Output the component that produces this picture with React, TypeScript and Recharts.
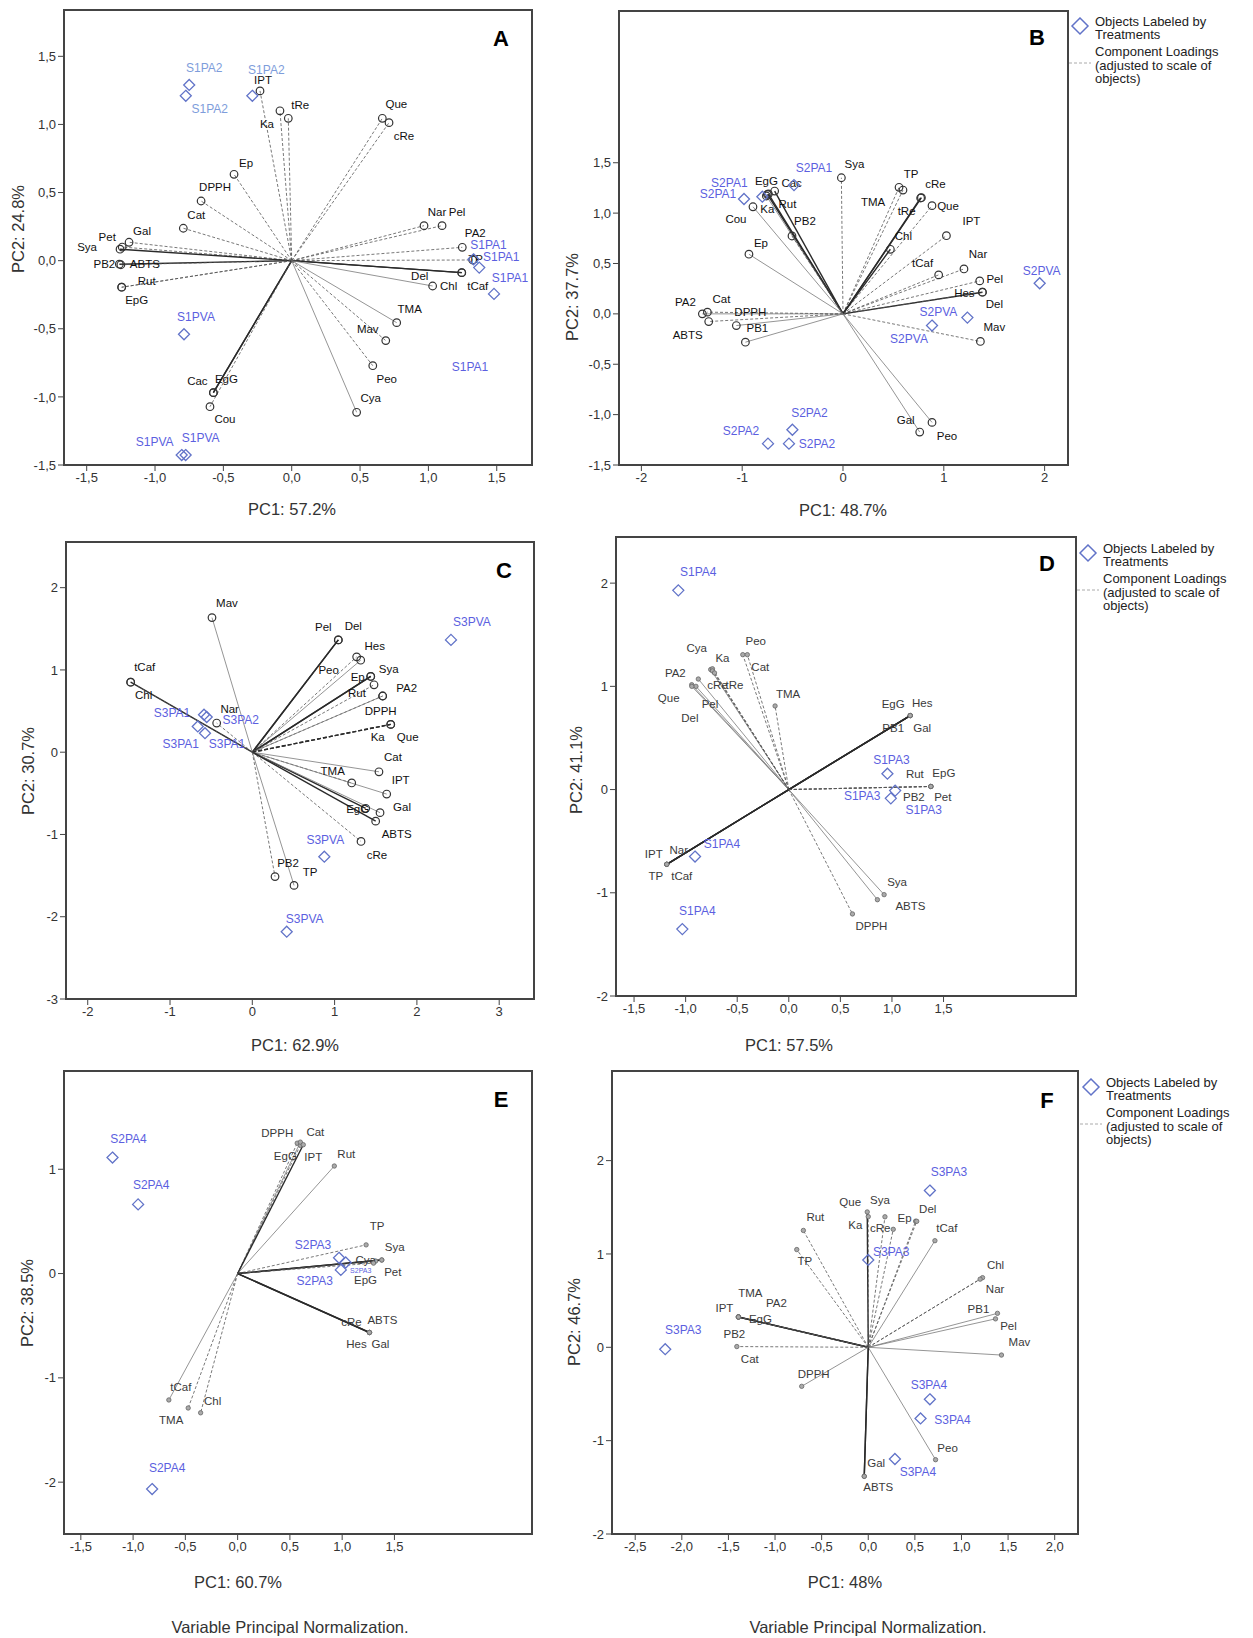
import React from "react";
import {
  ScatterChart,
  Scatter,
  XAxis,
  YAxis,
  ReferenceLine,
  ReferenceArea,
  ReferenceDot,
} from "recharts";

const FONT = "Arial, 'Liberation Sans', Helvetica, sans-serif";
const DIAMOND = "#6173c8";
const OBJ_TEXT = "#5c5fe0";
const OBJ_LIGHT = "#7e9ddb";

// ---------- Panel A ----------
const aObj = ["S1PA2", "S1PA2", "S1PA2", "S1PA1", "S1PA1", "S1PA1", "S1PVA", "S1PVA", "S1PVA"];
const aObjPc1 = [-0.75, -0.775, -0.288, 1.33, 1.372, 1.48, -0.788, -0.805, -0.776];
const aObjPc2 = [1.29, 1.21, 1.21, 0.01, -0.051, -0.244, -0.54, -1.427, -1.427];
const aStray = ["S1PA1"];
const aStrayPc1 = [1.304];
const aStrayPc2 = [-0.778];
const aVar = ["IPT", "Ka", "tRe", "Que", "cRe", "Ep", "DPPH", "Cat", "Gal", "Pet", "Sya", "PB2", "ABTS", "Rut", "EpG", "Cac", "EgG", "Cou", "Nar", "Pel", "PA2", "TP", "Del", "tCaf", "Chl", "TMA", "Mav", "Peo", "Cya"];
const aVarPc1 = [-0.232, -0.086, -0.025, 0.663, 0.712, -0.422, -0.663, -0.793, -1.19, -1.24, -1.256, -1.261, -1.25, -1.244, -1.244, -0.573, -0.573, -0.598, 0.968, 1.1, 1.248, 1.324, 1.244, 1.244, 1.031, 0.768, 0.688, 0.593, 0.475];
const aVarPc2 = [1.246, 1.1, 1.045, 1.045, 1.013, 0.634, 0.438, 0.238, 0.135, 0.1, 0.084, -0.026, -0.03, -0.195, -0.195, -0.969, -0.969, -1.072, 0.257, 0.257, 0.098, 0.005, -0.088, -0.088, -0.186, -0.455, -0.587, -0.771, -1.113];

// ---------- Panel B ----------
const bObj = ["S2PA1", "S2PA1", "S2PA1", "S2PVA", "S2PVA", "S2PVA", "S2PA2", "S2PA2", "S2PA2"];
const bObjPc1 = [-0.982, -0.8, -0.486, 1.951, 1.234, 0.883, -0.502, -0.744, -0.536];
const bObjPc2 = [1.14, 1.163, 1.278, 0.304, -0.037, -0.116, -1.15, -1.288, -1.288];
const bVar = ["Sya", "TMA", "TP", "cRe", "tRe", "Que", "Chl", "IPT", "Nar", "tCaf", "Pel", "Hes", "Del", "Mav", "Gal", "Peo", "EgG", "Cac", "Ka", "Rut", "Cou", "PB2", "Ep", "PA2", "Cat", "ABTS", "DPPH", "PB1"];
const bVarPc1 = [-0.016, 0.556, 0.595, 0.778, 0.77, 0.883, 0.47, 1.026, 1.2, 0.949, 1.356, 1.383, 1.383, 1.363, 0.761, 0.883, -0.75, -0.678, -0.76, -0.74, -0.893, -0.506, -0.933, -1.395, -1.345, -1.332, -1.058, -0.968];
const bVarPc2 = [1.351, 1.256, 1.229, 1.153, 1.15, 1.074, 0.641, 0.776, 0.446, 0.387, 0.327, 0.215, 0.215, -0.274, -1.173, -1.077, 1.186, 1.219, 1.17, 1.19, 1.063, 0.773, 0.592, 0.0, 0.017, -0.076, -0.116, -0.281];

// ---------- Panel C ----------
const cObj = ["S3PA1", "S3PA2", "S3PA1", "S3PA1", "S3PVA", "S3PVA", "S3PVA"];
const cObjPc1 = [-0.587, -0.554, -0.663, -0.575, 2.414, 0.875, 0.418];
const cObjPc2 = [0.456, 0.428, 0.313, 0.231, 1.365, -1.27, -2.182];
const cVar = ["Mav", "tCaf", "Chl", "Nar", "PB2", "TP", "Pel", "Del", "Peo", "Hes", "Ep", "Sya", "Rut", "PA2", "DPPH", "Ka", "Que", "Cat", "TMA", "IPT", "EgG", "Gal", "ABTS", "cRe"];
const cVarPc1 = [-0.49, -1.478, -1.478, -0.433, 0.276, 0.507, 1.045, 1.045, 1.268, 1.317, 1.439, 1.439, 1.479, 1.584, 1.584, 1.682, 1.682, 1.539, 1.208, 1.633, 1.378, 1.552, 1.499, 1.321];
const cVarPc2 = [1.636, 0.851, 0.851, 0.354, -1.512, -1.619, 1.365, 1.365, 1.159, 1.118, 0.921, 0.921, 0.819, 0.683, 0.683, 0.338, 0.338, -0.238, -0.374, -0.509, -0.682, -0.735, -0.838, -1.085];

// ---------- Panel D ----------
const dObj = ["S1PA4", "S1PA4", "S1PA4", "S1PA3", "S1PA3", "S1PA3"];
const dObjPc1 = [-1.071, -0.909, -1.032, 0.956, 1.031, 0.989];
const dObjPc2 = [1.93, -0.649, -1.352, 0.154, -0.01, -0.085];
const dVar = ["Cya", "Ka", "PA2", "Que", "cRe", "tRe", "Pel", "Del", "Peo", "Cat", "TMA", "IPT", "Nar", "TP", "tCaf", "DPPH", "Sya", "ABTS", "EgG", "Hes", "PB1", "Gal", "Rut", "EpG", "PB2", "Pet"];
const dVarPc1 = [-0.757, -0.74, -0.877, -0.941, -0.74, -0.72, -0.9, -0.94, -0.446, -0.402, -0.133, -1.183, -1.183, -1.183, -1.183, 0.617, 0.924, 0.859, 1.177, 1.177, 1.177, 1.177, 1.377, 1.377, 1.377, 1.377];
const dVarPc2 = [1.163, 1.17, 1.071, 1.016, 1.15, 1.13, 1.0, 1.0, 1.307, 1.307, 0.81, -0.724, -0.724, -0.724, -0.724, -1.205, -1.018, -1.067, 0.717, 0.717, 0.717, 0.717, 0.03, 0.03, 0.03, 0.03];

// ---------- Panel E ----------
const eObj = ["S2PA4", "S2PA4", "S2PA4", "S2PA3", "S2PA3", "S2PA3"];
const eObjPc1 = [-1.197, -0.952, -0.818, 0.97, 1.034, 0.987];
const eObjPc2 = [1.112, 0.663, -2.066, 0.151, 0.106, 0.035];
const eVar = ["DPPH", "EgG", "Cat", "IPT", "Rut", "TP", "Sya", "Pet", "Cya", "EpG", "cRe", "ABTS", "Hes", "Gal", "tCaf", "TMA", "Chl"];
const eVarPc1 = [0.57, 0.6, 0.6, 0.628, 0.925, 1.229, 1.379, 1.379, 1.32, 1.3, 1.261, 1.261, 1.261, 1.261, -0.658, -0.473, -0.354];
const eVarPc2 = [1.25, 1.23, 1.26, 1.235, 1.031, 0.275, 0.13, 0.13, 0.12, 0.1, -0.565, -0.565, -0.565, -0.565, -1.212, -1.289, -1.335];

// ---------- Panel F ----------
const fObj = ["S3PA3", "S3PA3", "S3PA3", "S3PA4", "S3PA4", "S3PA4"];
const fObjPc1 = [-2.178, 0.0, 0.661, 0.661, 0.561, 0.286];
const fObjPc2 = [-0.02, 0.936, 1.679, -0.557, -0.762, -1.197];
const fVar = ["Rut", "TP", "Que", "Ka", "Sya", "cRe", "Ep", "Del", "tCaf", "Chl", "Nar", "PB1", "Pel", "Mav", "Peo", "Gal", "ABTS", "TMA", "PA2", "IPT", "EgG", "PB2", "Cat", "DPPH"];
const fVarPc1 = [-0.696, -0.767, -0.011, 0.0, 0.179, 0.268, 0.508, 0.52, 0.715, 1.226, 1.2, 1.386, 1.365, 1.429, 0.722, -0.043, -0.043, -1.393, -1.393, -1.393, -1.393, -1.393, -1.41, -0.714];
const fVarPc2 = [1.252, 1.047, 1.45, 1.4, 1.398, 1.264, 1.351, 1.35, 1.142, 0.746, 0.73, 0.364, 0.305, -0.083, -1.204, -1.382, -1.382, 0.325, 0.325, 0.325, 0.325, 0.325, 0.008, -0.418];

// axis ticks
const ticksHalf15 = [-1.5, -1.0, -0.5, 0.0, 0.5, 1.0, 1.5];
const ticksB_x = [-2, -1, 0, 1, 2];
const ticksC_x = [-2, -1, 0, 1, 2, 3];
const ticksC_y = [-3, -2, -1, 0, 1, 2];
const ticksD_y = [-2, -1, 0, 1, 2];
const ticksE_y = [-2, -1, 0, 1];
const ticksF_x = [-2.5, -2.0, -1.5, -1.0, -0.5, 0.0, 0.5, 1.0, 1.5, 2.0];

// label offsets (px) for each point, same order as the arrays above
const aObjLab = [[15, -17], [24, 13], [14, -26], [15, -14], [22, -11], [16, -16], [12, -17], [-27, -13], [15, -17]];
const aVarLab = [[3, -11], [-13, 13], [12, -13], [14, -14], [15, 13], [12, -11], [14, -14], [13, -13], [13, -11], [-15, -10], [-33, -2], [-15, 0], [24, -1], [25, -6], [15, 13], [-16, -12], [13, -14], [15, 12], [13, -14], [15, -14], [13, -14], [3, -1], [-42, 3], [16, 13], [16, 0], [13, -14], [-18, -12], [14, 13], [14, -14]];
const bObjLab = [[-26, -5], [-33, -14], [20, -17], [2, -12], [-29, -6], [-23, 13], [17, -17], [-27, -13], [28, 0]];
const bVarLab = [[13, -14], [-26, 15], [8, -16], [14, -14], [-14, 13], [16, 0], [13, -13], [25, -15], [14, -15], [-16, -12], [15, -2], [-18, 1], [12, 12], [14, -14], [-14, -12], [15, 14], [-1, -13], [17, -8], [1, 13], [19, 10], [-17, 12], [13, -15], [12, -11], [-17, -12], [14, -13], [-21, 13], [14, -14], [12, -14]];
const cObjLab = [[-32, -2], [34, 3], [-17, 18], [22, 11], [21, -18], [1, -17], [18, -13]];
const cVarLab = [[15, -15], [14, -15], [13, 13], [13, -14], [13, -14], [16, -13], [-15, -13], [15, -14], [-28, 13], [14, -14], [-13, 1], [18, -7], [-17, 8], [24, -8], [-2, 15], [-13, 13], [17, 13], [14, -15], [-19, -12], [14, -14], [-8, 1], [22, -6], [21, 13], [16, 14]];
const dObjLab = [[20, -18], [27, -13], [15, -18], [4, -14], [-33, 5], [33, 12]];
const dVarLab = [[-14, -22], [10, -11], [-23, -6], [-23, 13], [5, 14], [20, 12], [14, 18], [-2, 32], [13, -14], [13, 12], [13, -12], [-13, -10], [12, -14], [-11, 12], [15, 12], [19, 12], [13, -13], [33, 6], [-17, -12], [12, -13], [-17, 12], [12, 12], [-16, -12], [13, -13], [-17, 11], [12, 11]];
const eObjLab = [[16, -19], [13, -19], [15, -21], [-26, -13], [15, 8], [-26, 11]];
const eVarLab = [[-20, -10], [-15, 11], [15, -10], [10, 12], [12, -12], [11, -19], [13, -13], [11, 12], [-10, -1], [-8, 17], [-18, -10], [13, -12], [-13, 12], [11, 12], [12, -13], [-17, 12], [12, -12]];
const fObjLab = [[18, -19], [23, -8], [19, -19], [-1, -14], [32, 2], [23, 13]];
const fVarLab = [[12, -13], [8, 11], [-17, -10], [-13, 8], [-5, -17], [-13, -1], [-11, -3], [11, -12], [12, -13], [13, -13], [15, 10], [-19, -4], [13, 7], [18, -13], [12, -12], [12, -13], [14, 11], [12, -24], [38, -14], [-14, -9], [22, 2], [-4, 17], [13, 12], [12, -12]];

// line kinds: b = bold solid, bd = bold dashed, s = thin solid, d = dashed
const aVarLine = ["d", "d", "d", "d", "d", "d", "d", "d", "d", "d", "b", "b", "d", "d", "d", "b", "b", "d", "d", "d", "d", "d", "b", "b", "s", "s", "d", "d", "s"];
const bVarLine = ["d", "d", "d", "b", "b", "d", "b", "d", "d", "d", "d", "b", "d", "d", "s", "s", "b", "b", "s", "b", "s", "d", "s", "s", "d", "d", "s", "s"];
const cVarLine = ["s", "b", "d", "d", "d", "s", "b", "b", "d", "s", "b", "b", "d", "d", "s", "bd", "bd", "s", "d", "s", "b", "s", "b", "d"];
const dVarLine = ["s", "d", "s", "s", "d", "d", "s", "s", "d", "d", "d", "b", "b", "b", "b", "d", "s", "s", "b", "b", "b", "b", "d", "d", "d", "d"];
const eVarLine = ["d", "d", "s", "b", "s", "d", "b", "b", "d", "d", "d", "b", "d", "b", "s", "d", "d"];
const fVarLine = ["d", "d", "b", "d", "d", "d", "d", "d", "s", "d", "d", "s", "s", "s", "s", "b", "b", "b", "d", "b", "d", "d", "d", "s"];

type Row = { name: string; x: number; y: number; dx: number; dy: number; kind: string; tint: string; size: number };

function rows(names: string[], xs: number[], ys: number[], labs: number[][], kinds: string[] | null, tint: (n: string, i: number) => string, size: (i: number) => number): Row[] {
  return names.map((name, i) => ({
    name,
    x: xs[i],
    y: ys[i],
    dx: labs[i][0],
    dy: labs[i][1],
    kind: kinds ? kinds[i] : "",
    tint: tint(name, i),
    size: size(i),
  }));
}

function lineStyle(k: string) {
  if (k === "b") return { stroke: "#2a2a2a", strokeWidth: 1.4 };
  if (k === "bd") return { stroke: "#2a2a2a", strokeWidth: 1.4, strokeDasharray: "4 2" };
  if (k === "s") return { stroke: "#7a7a7a", strokeWidth: 0.8 };
  return { stroke: "#555", strokeWidth: 0.8, strokeDasharray: "3 2" };
}

const fmt = (dec: number) => (v: number) => (dec ? v.toFixed(dec).replace(".", ",") : String(v));

type Panel = {
  x0: number; y0: number; x1: number; y1: number;
  xDom: number[]; yDom: number[]; xTicks: number[]; yTicks: number[];
  xDec: number; yDec: number; dot: boolean;
  objs: Row[]; vars: Row[];
  stray?: { name: string; x: number; y: number }[];
};

function Biplot({ p }: { p: Panel }) {
  const YW = 48, XH = 30, MT = 2, MR = 2;
  const w = p.x1 - p.x0 + YW + MR;
  const h = p.y1 - p.y0 + MT + XH;
  const tick = { fontSize: 13, fill: "#333", fontFamily: FONT };

  const varShape = (props: any) => {
    const { cx, cy, payload } = props;
    return (
      <g>
        {p.dot ? (
          <circle cx={cx} cy={cy} r={2.2} fill="#aaa" stroke="#666" strokeWidth={0.8} />
        ) : (
          <circle cx={cx} cy={cy} r={3.8} fill="none" stroke="#333" strokeWidth={1.2} />
        )}
        <text x={cx + payload.dx} y={cy + payload.dy} textAnchor="middle" dominantBaseline="central" fontSize={11.5} fontFamily={FONT} fill={p.dot ? "#3a3a3a" : "#111"}>
          {payload.name}
        </text>
      </g>
    );
  };

  const objShape = (props: any) => {
    const { cx, cy, payload } = props;
    const s = 5.5;
    return (
      <g>
        <path d={`M${cx},${cy - s}L${cx + s},${cy}L${cx},${cy + s}L${cx - s},${cy}Z`} fill="none" stroke={DIAMOND} strokeWidth={1.3} />
        <text x={cx + payload.dx} y={cy + payload.dy} textAnchor="middle" dominantBaseline="central" fontSize={payload.size} fontFamily={FONT} fill={payload.tint}>
          {payload.name}
        </text>
      </g>
    );
  };

  return (
    <div style={{ position: "absolute", left: p.x0 - YW, top: p.y0 - MT }}>
      <ScatterChart width={w} height={h} margin={{ top: MT, right: MR, bottom: 0, left: 0 }}>
        <XAxis
          type="number"
          dataKey="x"
          domain={p.xDom}
          ticks={p.xTicks}
          interval={0}
          allowDataOverflow
          height={XH}
          tickFormatter={fmt(p.xDec)}
          tick={tick}
          tickSize={6}
          tickLine={{ stroke: "#444" }}
          axisLine={{ stroke: "#444", strokeWidth: 2 }}
        />
        <YAxis
          type="number"
          dataKey="y"
          domain={p.yDom}
          ticks={p.yTicks}
          interval={0}
          allowDataOverflow
          width={YW}
          tickFormatter={fmt(p.yDec)}
          tick={tick}
          tickSize={6}
          tickLine={{ stroke: "#444" }}
          axisLine={{ stroke: "#444", strokeWidth: 2 }}
        />
        <ReferenceArea x1={p.xDom[0]} x2={p.xDom[1]} y1={p.yDom[0]} y2={p.yDom[1]} fill="none" stroke="#444" strokeWidth={2} />
        {p.vars.map((v, i) => (
          <ReferenceLine key={"l" + i} segment={[{ x: 0, y: 0 }, { x: v.x, y: v.y }]} {...lineStyle(v.kind)} />
        ))}
        <Scatter data={p.vars} shape={varShape} isAnimationActive={false} />
        <Scatter data={p.objs} shape={objShape} isAnimationActive={false} />
        {(p.stray || []).map((s, i) => (
          <ReferenceDot
            key={"s" + i}
            x={s.x}
            y={s.y}
            r={0}
            fill="none"
            stroke="none"
            label={{ value: s.name, position: "center", fill: OBJ_TEXT, fontSize: 12, fontFamily: FONT }}
          />
        ))}
      </ScatterChart>
    </div>
  );
}

function Txt({ x, y, text, size = 16.5, rot = false, bold = false, color = "#333" }: any) {
  return (
    <div
      style={{
        position: "absolute",
        left: x,
        top: y,
        transform: `translate(-50%,-50%)${rot ? " rotate(-90deg)" : ""}`,
        fontFamily: FONT,
        fontSize: size,
        fontWeight: bold ? 700 : 400,
        color,
        whiteSpace: "nowrap",
        lineHeight: 1,
      }}
    >
      {text}
    </div>
  );
}

const legendLines = ["Objects Labeled by", "Treatments", "Component Loadings", "(adjusted to scale of", "objects)"];
const legendDy = [-5.5, 7.5, 25, 38.5, 52];

function Legend({ x, y }: { x: number; y: number }) {
  return (
    <>
      <svg style={{ position: "absolute", left: x - 12, top: y - 9 }} width={36} height={60}>
        <path d="M12,1L20,9L12,17L4,9Z" fill="none" stroke={DIAMOND} strokeWidth={1.5} />
        <line x1={1} y1={9 + 37} x2={23} y2={9 + 37} stroke="#aaa" strokeWidth={1} strokeDasharray="3 2" />
      </svg>
      {legendLines.map((t, i) => (
        <div
          key={i}
          style={{
            position: "absolute",
            left: x + 15,
            top: y + legendDy[i],
            transform: "translate(0,-50%)",
            fontFamily: FONT,
            fontSize: 13,
            color: "#222",
            whiteSpace: "nowrap",
            lineHeight: 1,
          }}
        >
          {t}
        </div>
      ))}
    </>
  );
}

const objTint = (light: string[]) => (n: string) => (light.includes(n) ? OBJ_LIGHT : OBJ_TEXT);
const plain = () => "#111";
const size12 = () => 12;

export default function App() {
  const panels: Panel[] = [
    {
      x0: 64, y0: 10, x1: 532, y1: 465, xDom: [-1.666, 1.758], yDom: [-1.5, 1.84],
      xTicks: ticksHalf15, yTicks: ticksHalf15, xDec: 1, yDec: 1, dot: false,
      objs: rows(aObj, aObjPc1, aObjPc2, aObjLab, null, objTint(["S1PA2"]), size12),
      vars: rows(aVar, aVarPc1, aVarPc2, aVarLab, aVarLine, plain, size12),
      stray: aStray.map((n, i) => ({ name: n, x: aStrayPc1[i], y: aStrayPc2[i] })),
    },
    {
      x0: 619, y0: 11, x1: 1068, y1: 465, xDom: [-2.222, 2.232], yDom: [-1.5, 3.006],
      xTicks: ticksB_x, yTicks: ticksHalf15, xDec: 0, yDec: 1, dot: false,
      objs: rows(bObj, bObjPc1, bObjPc2, bObjLab, null, objTint([]), size12),
      vars: rows(bVar, bVarPc1, bVarPc2, bVarLab, bVarLine, plain, size12),
    },
    {
      x0: 66, y0: 542, x1: 534, y1: 999, xDom: [-2.264, 3.423], yDom: [-3, 2.555],
      xTicks: ticksC_x, yTicks: ticksC_y, xDec: 0, yDec: 0, dot: false,
      objs: rows(cObj, cObjPc1, cObjPc2, cObjLab, null, objTint([]), size12),
      vars: rows(cVar, cVarPc1, cVarPc2, cVarLab, cVarLine, plain, size12),
    },
    {
      x0: 616, y0: 537, x1: 1076, y1: 996, xDom: [-1.675, 2.784], yDom: [-2, 2.447],
      xTicks: ticksHalf15, yTicks: ticksD_y, xDec: 1, yDec: 0, dot: true,
      objs: rows(dObj, dObjPc1, dObjPc2, dObjLab, null, objTint([]), size12),
      vars: rows(dVar, dVarPc1, dVarPc2, dVarLab, dVarLine, plain, size12),
    },
    {
      x0: 64, y0: 1071, x1: 532, y1: 1534, xDom: [-1.661, 2.816], yDom: [-2.497, 1.942],
      xTicks: ticksHalf15, yTicks: ticksE_y, xDec: 1, yDec: 0, dot: true,
      objs: rows(eObj, eObjPc1, eObjPc2, eObjLab, null, objTint([]), (i) => (i === 4 ? 7 : 12)),
      vars: rows(eVar, eVarPc1, eVarPc2, eVarLab, eVarLine, plain, size12),
    },
    {
      x0: 612, y0: 1071, x1: 1078, y1: 1534, xDom: [-2.749, 2.25], yDom: [-2, 2.96],
      xTicks: ticksF_x, yTicks: ticksD_y, xDec: 1, yDec: 0, dot: true,
      objs: rows(fObj, fObjPc1, fObjPc2, fObjLab, null, objTint([]), size12),
      vars: rows(fVar, fVarPc1, fVarPc2, fVarLab, fVarLine, plain, size12),
    },
  ];

  return (
    <div style={{ position: "absolute", left: 0, top: 0, width: 1253, height: 1638, background: "#fff", fontFamily: FONT }}>
      {panels.map((p, i) => (
        <Biplot key={i} p={p} />
      ))}

      <Txt x={292} y={509} text="PC1: 57.2%" />
      <Txt x={18} y={229} text="PC2: 24.8%" rot />
      <Txt x={843} y={510} text="PC1: 48.7%" />
      <Txt x={572} y={297} text="PC2: 37.7%" rot />
      <Txt x={295} y={1045} text="PC1: 62.9%" />
      <Txt x={28} y={771} text="PC2: 30.7%" rot />
      <Txt x={789} y={1045} text="PC1: 57.5%" />
      <Txt x={576} y={770} text="PC2: 41.1%" rot />
      <Txt x={238} y={1582} text="PC1: 60.7%" />
      <Txt x={27} y={1303} text="PC2: 38.5%" rot />
      <Txt x={845} y={1582} text="PC1: 48%" />
      <Txt x={574} y={1322} text="PC2: 46.7%" rot />

      <Txt x={501} y={39} text="A" size={22} bold color="#000" />
      <Txt x={1037} y={38} text="B" size={22} bold color="#000" />
      <Txt x={504} y={571} text="C" size={22} bold color="#000" />
      <Txt x={1047} y={564} text="D" size={22} bold color="#000" />
      <Txt x={501} y={1100} text="E" size={22} bold color="#000" />
      <Txt x={1047} y={1101} text="F" size={22} bold color="#000" />

      <Legend x={1080} y={26} />
      <Legend x={1088} y={553} />
      <Legend x={1091} y={1087} />

      <Txt x={290} y={1627} text="Variable Principal Normalization." size={16.5} />
      <Txt x={868} y={1627} text="Variable Principal Normalization." size={16.5} />
    </div>
  );
}
